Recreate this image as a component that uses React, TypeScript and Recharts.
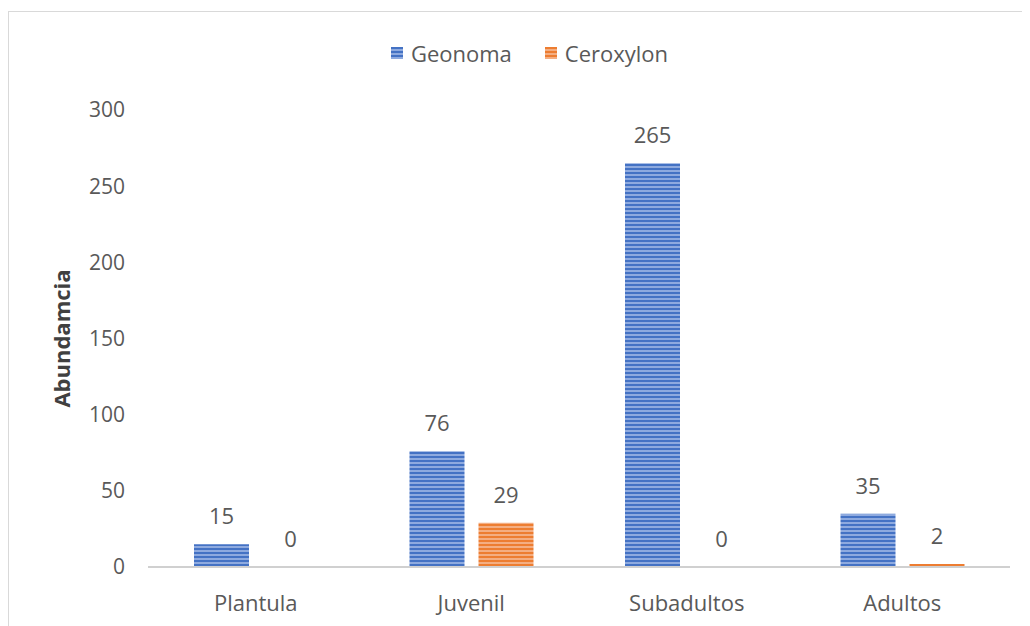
import { BarChart, Bar, XAxis, YAxis, LabelList } from "recharts";

const categories = ["Plantula", "Juvenil", "Subadultos", "Adultos"];
const geonoma = [15, 76, 265, 35];
const ceroxylon = [0, 29, 0, 2];
const yTicks = [0, 50, 100, 150, 200, 250, 300];

const data = categories.map((name, i) => ({
  name,
  Geonoma: geonoma[i],
  Ceroxylon: ceroxylon[i],
}));

const FONT = "'Open Sans', sans-serif";
const TEXT = "#595959";
const SIZE = 22;

function StripeLegend() {
  const items = [
    { label: "Geonoma", fill: "url(#stripeBlue)" },
    { label: "Ceroxylon", fill: "url(#stripeOrange)" },
  ];
  return (
    <div
      style={{
        display: "flex",
        justifyContent: "center",
        gap: 33,
        fontFamily: FONT,
        fontSize: SIZE,
        color: TEXT,
        paddingLeft: 21,
      }}
    >
      {items.map((it) => (
        <div key={it.label} style={{ display: "flex", alignItems: "center" }}>
          <svg width={12} height={12} style={{ marginRight: 8 }}>
            <rect width={12} height={12} fill={it.fill} />
          </svg>
          {it.label}
        </div>
      ))}
    </div>
  );
}

export default function App() {
  return (
    <div style={{ paddingTop: 3 }}>
      <div
        style={{
          width: 1022,
          height: 620,
          borderTop: "1px solid #d9d9d9",
          borderLeft: "1px solid #d9d9d9",
          background: "#fff",
        }}
      >
        <BarChart
          width={1013}
          height={614}
          data={data}
          margin={{ top: 98, right: 12, left: 50, bottom: 29 }}
          barSize={55}
          barGap={14}
        >
          <defs>
            <pattern id="stripeBlue" width={8} height={4} patternUnits="userSpaceOnUse">
              <rect width={8} height={4} fill="#8eaadf" />
              <rect width={8} height={2} fill="#4472c4" />
            </pattern>
            <pattern id="stripeOrange" width={8} height={4} patternUnits="userSpaceOnUse">
              <rect width={8} height={4} fill="#f4ae82" />
              <rect width={8} height={2} fill="#ed7d31" />
            </pattern>
          </defs>
          <XAxis
            dataKey="name"
            axisLine={{ stroke: "#d0d0d0", strokeWidth: 2 }}
            tickLine={false}
            tick={{ fill: TEXT, fontSize: SIZE, fontFamily: FONT }}
            tickMargin={22}
          />
          <YAxis
            width={89}
            domain={[0, 300]}
            ticks={yTicks}
            axisLine={false}
            tickLine={false}
            tick={{ fill: TEXT, fontSize: 21, fontFamily: FONT }}
            tickMargin={17}
            label={{
              value: "Abundamcia",
              angle: -90,
              position: "insideLeft",
              offset: 3,
              style: {
                fill: "#404040",
                fontSize: SIZE,
                fontWeight: 700,
                fontFamily: FONT,
                textAnchor: "middle",
              },
            }}
          />
          <Bar
            dataKey="Geonoma"
            fill="url(#stripeBlue)"
            minPointSize={0.1}
            isAnimationActive={false}
          >
            <LabelList
              dataKey="Geonoma"
              position="top"
              offset={20}
              style={{ fill: TEXT, fontSize: SIZE, fontFamily: FONT }}
            />
          </Bar>
          <Bar
            dataKey="Ceroxylon"
            fill="url(#stripeOrange)"
            minPointSize={0.1}
            isAnimationActive={false}
          >
            <LabelList
              dataKey="Ceroxylon"
              position="top"
              offset={20}
              style={{ fill: TEXT, fontSize: SIZE, fontFamily: FONT }}
            />
          </Bar>
        </BarChart>
      </div>
      <div style={{ position: "absolute", top: 38, left: 8, width: 1022 }}>
        <StripeLegend />
      </div>
    </div>
  );
}
